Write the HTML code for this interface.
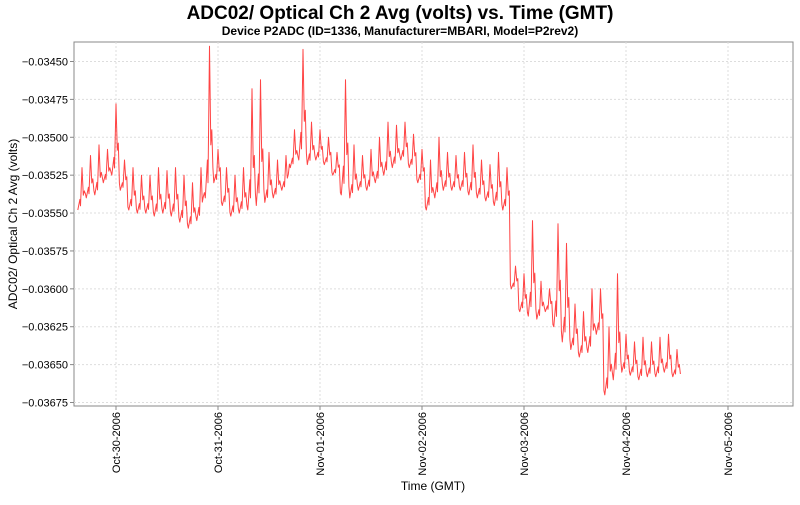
<!DOCTYPE html>
<html><head><meta charset="utf-8"><style>
body{margin:0;background:#fff;font-family:"Liberation Sans","DejaVu Sans",sans-serif}
</style></head><body>
<svg width="800" height="500" xmlns="http://www.w3.org/2000/svg">
<text x="400" y="19" text-anchor="middle" font-size="19" font-weight="bold">ADC02/ Optical Ch 2 Avg (volts) vs. Time (GMT)</text>
<text x="400" y="35" text-anchor="middle" font-size="12" font-weight="bold">Device P2ADC (ID=1336, Manufacturer=MBARI, Model=P2rev2)</text>
<rect x="74" y="42" width="719" height="364" fill="#fff" stroke="#888"/>
<g id="grid"></g><g id="yticks"></g><g id="xticks"></g>
<path id="series" fill="none" stroke="#f44" stroke-width="1" stroke-linejoin="round"/>
<text transform="translate(17,224) rotate(-90)" text-anchor="middle" font-size="12">ADC02/ Optical Ch 2 Avg (volts)</text>
<text x="433" y="490" text-anchor="middle" font-size="12">Time (GMT)</text>
</svg>
<script>
const yTicks=[-0.03450,-0.03475,-0.03500,-0.03525,-0.03550,-0.03575,-0.03600,-0.03625,-0.03650,-0.03675];
const xTickLabels=["Oct-30-2006","Oct-31-2006","Nov-01-2006","Nov-02-2006","Nov-03-2006","Nov-04-2006","Nov-05-2006"];
const startHour=-9;
const troughs=[-0.03548,-0.03540,-0.03538,-0.03530,-0.03525,-0.03535,-0.03548,-0.03550,-0.03550,-0.03552,-0.03550,-0.03552,-0.03556,-0.03560,-0.03555,-0.03540,-0.03530,-0.03545,-0.03552,-0.03550,-0.03548,-0.03545,-0.03543,-0.03540,-0.03535,-0.03520,-0.03515,-0.03518,-0.03515,-0.03518,-0.03525,-0.03538,-0.03540,-0.03535,-0.03535,-0.03530,-0.03525,-0.03520,-0.03515,-0.03520,-0.03530,-0.03548,-0.03540,-0.03535,-0.03535,-0.03535,-0.03538,-0.03540,-0.03542,-0.03545,-0.03548,-0.03600,-0.03615,-0.03618,-0.03620,-0.03615,-0.03625,-0.03635,-0.03640,-0.03645,-0.03642,-0.03630,-0.03670,-0.03660,-0.03655,-0.03657,-0.03660,-0.03658,-0.03658,-0.03655,-0.03658];
const peaks=[-0.03520,-0.03512,-0.03505,-0.03508,-0.03478,-0.03515,-0.03520,-0.03525,-0.03525,-0.03520,-0.03522,-0.03520,-0.03525,-0.03530,-0.03520,-0.03440,-0.03508,-0.03520,-0.03525,-0.03520,-0.03468,-0.03462,-0.03510,-0.03515,-0.03512,-0.03495,-0.03442,-0.03490,-0.03495,-0.03500,-0.03510,-0.03462,-0.03505,-0.03512,-0.03508,-0.03500,-0.03490,-0.03492,-0.03490,-0.03498,-0.03508,-0.03515,-0.03500,-0.03510,-0.03512,-0.03510,-0.03505,-0.03515,-0.03518,-0.03510,-0.03520,-0.03585,-0.03590,-0.03555,-0.03595,-0.03600,-0.03557,-0.03570,-0.03610,-0.03615,-0.03600,-0.03600,-0.03625,-0.03590,-0.03630,-0.03635,-0.03632,-0.03635,-0.03632,-0.03630,-0.03640];
const NS="http://www.w3.org/2000/svg";
const L=74,R=793,T=42,B=406;
function yS(v){return 61.5+(-0.0345-v)/0.00225*341;}
function xS(h){return 116+h*102/24;}
const grid=document.getElementById('grid'),yt=document.getElementById('yticks'),xt=document.getElementById('xticks');
function mk(tag,at,parent){const e=document.createElementNS(NS,tag);for(const k in at)e.setAttribute(k,at[k]);parent.appendChild(e);return e;}
yTicks.forEach(v=>{const y=yS(v);
 const g=mk('line',{x1:L,x2:R,y1:y,y2:y,stroke:'#ddd','stroke-dasharray':'2,2'},grid);
 
 
 mk('line',{x1:L-4,x2:L,y1:y,y2:y,stroke:'#888'},yt);
 const t=mk('text',{x:L-6,y:y+4,'text-anchor':'end','font-size':'11'},yt);
 t.textContent=v.toFixed(5).replace('-','\u2212');
 
 
});
xTickLabels.forEach((lab,i)=>{const x=xS(i*24);
 const g=mk('line',{x1:x,x2:x,y1:T,y2:B,stroke:'#ddd','stroke-dasharray':'2,2'},grid);
 
 
 mk('line',{x1:x,x2:x,y1:B,y2:B+4,stroke:'#888'},xt);
 const t=mk('text',{transform:`translate(${x+4},${B+6}) rotate(-90)`,'text-anchor':'end','font-size':'11'},xt);
 t.textContent=lab;
 
 
});
let d='';
for(let i=0;i<troughs.length;i++){
 const h=startHour+2*i, tr=troughs[i], pk=peaks[i];
 const nxt=i+1<troughs.length?troughs[i+1]:tr;
 d+=(i?'L':'M')+xS(h).toFixed(1)+','+yS(tr).toFixed(1);
 d+='L'+xS(h+0.5).toFixed(1)+','+yS(tr+0.25*(pk-tr)).toFixed(1);
 d+='L'+xS(h+0.65).toFixed(1)+','+yS(tr+0.1*(pk-tr)).toFixed(1);
 d+='L'+xS(h+1).toFixed(1)+','+yS(pk).toFixed(1);
 d+='L'+xS(h+1.3).toFixed(1)+','+yS(tr+0.35*(pk-tr)).toFixed(1);
 d+='L'+xS(h+1.55).toFixed(1)+','+yS(tr+0.45*(pk-tr)).toFixed(1);
 d+='L'+xS(h+1.8).toFixed(1)+','+yS(nxt+0.1*(pk-tr)).toFixed(1);
}
document.getElementById('series').setAttribute('d',d);
</script>
</body></html>
